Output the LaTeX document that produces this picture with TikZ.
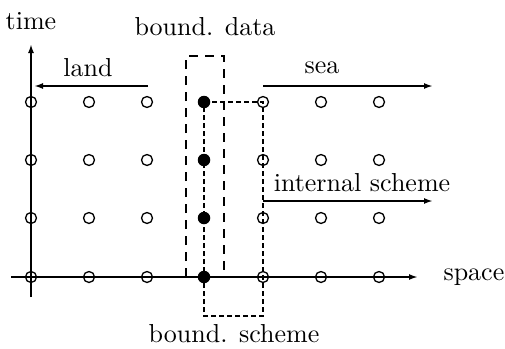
\documentclass[tikz,border=0pt]{standalone}
\usepackage{fontspec}
\setmainfont{lmroman10-regular.otf}
\usetikzlibrary{arrows.meta}
\begin{document}
\begin{tikzpicture}[x=1pt,y=-1pt,
  lbl/.style={font=\fontsize{26}{30}\selectfont, inner sep=0pt},
  opendot/.style={circle, draw, line width=1.3pt, minimum size=11pt, inner sep=0pt},
  fulldot/.style={circle, fill, minimum size=12.5pt, inner sep=0pt},
  axis/.style={line width=1.8pt, -{Latex[length=9pt,width=6pt]}},
  arr/.style={line width=1.8pt, -{Latex[length=9pt,width=6pt]}},
  bigdash/.style={line width=2.4pt, dash pattern=on 9pt off 7pt},
  smalldash/.style={line width=1.5pt, dash pattern=on 5pt off 3pt}]
\useasboundingbox (0,0) rectangle (505,348);
% axes
\coordinate (vb) at (31,297);
\coordinate (vt) at (31,44);
\coordinate (hl) at (11,277);
\coordinate (hr) at (418,277);
\draw[axis] (vb) -- (vt);
\draw[axis] (hl) -- (hr);
\node[lbl] (time) at (31,21) {time};
\node[lbl, anchor=east] (space) at (504.5,277) {space};
% grid of open circles
\foreach \c/\x in {1/31,2/89,3/147,5/263,6/321,7/379}{
  \foreach \r/\y in {1/102,2/160,3/218,4/277}{
    \node[opendot] (p\c\r) at (\x,\y) {};
  }
}
\foreach \r/\y in {1/102,2/160,3/218,4/277}{
  \node[fulldot] (p4\r) at (204,\y) {};
}
% bound. data box
\coordinate (bd1) at (186,277);
\coordinate (bd2) at (186,56);
\coordinate (bd3) at (224,56);
\coordinate (bd4) at (224,277);
\draw[bigdash] (bd1) -- (bd2) -- (bd3) -- (bd4);
\node[lbl] (bdata) at (205,27) {bound. data};
% bound. scheme box
\coordinate (bs1) at (204,316);
\coordinate (bs2) at (263,316);
\draw[smalldash] (p41.center) -- (p51.center) -- (bs2) -- (bs1) -- (p41.center);
\node[lbl] (bscheme) at (234,334) {bound. scheme};
% land, sea, internal scheme arrows
\coordinate (la) at (148,86);
\coordinate (lb) at (34,86);
\draw[arr] (la) -- (lb);
\node[lbl] (land) at (88,68) {land};
\coordinate (sa) at (263,86);
\coordinate (sb) at (433,86);
\draw[arr] (sa) -- (sb);
\node[lbl] (sea) at (322,68) {sea};
\coordinate (ia) at (263,201);
\coordinate (ib) at (433,201);
\draw[arr] (ia) -- (ib);
\node[lbl] (intl) at (362,183) {internal scheme};
\end{tikzpicture}
\end{document}
